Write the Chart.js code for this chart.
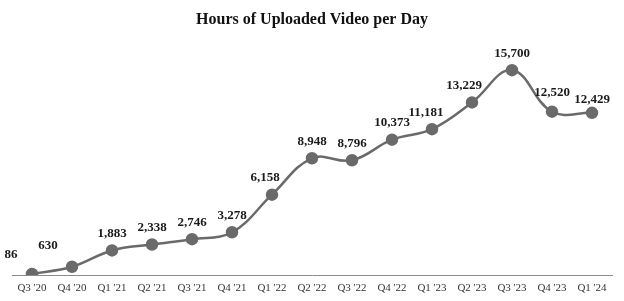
<!DOCTYPE html>
<html>
<head>
<meta charset="utf-8">
<script src="https://cdn.jsdelivr.net/npm/chart.js@4"></script>
<style>
  html, body { margin: 0; padding: 0; background: #fff; }
  #wrap { width: 624px; height: 301px; }
</style>
</head>
<body>
<div id="wrap"><canvas id="videoChart" width="624" height="301"></canvas></div>
<script>
const quarters = ["Q3 '20", "Q4 '20", "Q1 '21", "Q2 '21", "Q3 '21", "Q4 '21", "Q1 '22", "Q2 '22",
                  "Q3 '22", "Q4 '22", "Q1 '23", "Q2 '23", "Q3 '23", "Q4 '23", "Q1 '24"];
const hoursPerDay = [86, 630, 1883, 2338, 2746, 3278, 6158, 8948, 8796, 10373, 11181, 13229, 15700, 12520, 12429];

const serif = '"Liberation Serif", "Times New Roman", serif';

// labels sit above each point; a few are nudged like in the original
const labelNudge = { 0: [-21, -2], 1: [-24, -4], 6: [-7, 0], 10: [-6, 0], 11: [-8, 0], 13: [0, -2], 14: [0, 4] };

const pointLabels = {
    id: 'pointLabels',
    afterDatasetsDraw(chart) {
        const ctx = chart.ctx;
        const meta = chart.getDatasetMeta(0);
        ctx.save();
        ctx.font = 'bold 13px ' + serif;
        ctx.fillStyle = '#1a1a1a';
        ctx.textAlign = 'center';
        ctx.textBaseline = 'middle';
        meta.data.forEach((pt, i) => {
            const n = labelNudge[i] || [0, 0];
            ctx.fillText(hoursPerDay[i].toLocaleString('en-US'), pt.x + n[0], pt.y - 17 + n[1]);
        });
        ctx.restore();
    }
};

new Chart(document.getElementById('videoChart'), {
    type: 'line',
    data: {
        labels: quarters,
        datasets: [{
            data: hoursPerDay,
            borderColor: '#6a6a6a',
            borderWidth: 2.5,
            backgroundColor: '#6a6a6a',
            pointBackgroundColor: '#6a6a6a',
            pointBorderColor: '#6a6a6a',
            pointRadius: 5,
            tension: 0.4,
            fill: false
        }]
    },
    options: {
        responsive: false,
        animation: false,
        layout: { padding: { left: 12, right: 12, top: 0, bottom: 0 } },
        plugins: {
            legend: { display: false },
            tooltip: { enabled: false },
            title: {
                display: true,
                text: 'Hours of Uploaded Video per Day',
                color: '#111',
                font: { family: serif, size: 16, weight: 'bold' },
                padding: { top: 10, bottom: 11 }
            }
        },
        scales: {
            x: {
                offset: true,
                grid: { display: false, drawTicks: false },
                border: { display: true, color: '#8c8c8c', width: 1 },
                ticks: {
                    color: '#333',
                    font: { family: serif, size: 11 },
                    padding: 7,
                    maxRotation: 0,
                    autoSkip: false
                },
                afterFit(scale) { scale.height = 26; }
            },
            y: {
                display: false,
                min: 0,
                max: 18000
            }
        }
    },
    plugins: [pointLabels]
});
</script>
</body>
</html>
